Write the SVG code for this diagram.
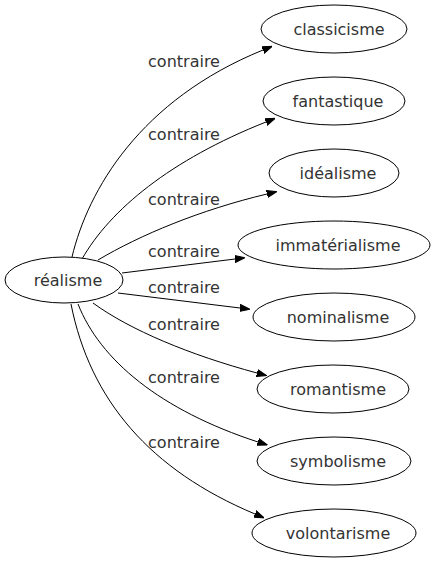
<svg xmlns="http://www.w3.org/2000/svg" width="435" height="563" viewBox="0 0 435 563">
<defs>
<marker id="arr" markerWidth="10" markerHeight="10" refX="0" refY="3.5" orient="auto" markerUnits="userSpaceOnUse" viewBox="0 0 10 7">
<polygon points="0,0 10,3.5 0,7" fill="#000" stroke="#000"/>
</marker>
</defs>
<style>
.n ellipse{fill:#fff;stroke:#000;stroke-width:1}
.n text{font-family:"DejaVu Sans",sans-serif;font-size:16px;fill:#333;text-anchor:middle}
.l{font-family:"DejaVu Sans",sans-serif;font-size:16px;fill:#333;text-anchor:middle}
.e path{fill:none;stroke:#000;stroke-width:1;marker-end:url(#arr)}
</style>
<rect width="435" height="563" fill="#fff"/>
<g id="edges" class="e">
<path d="M72,257 C88,190 140,100 263,50"/>
<path d="M82,259 C110,210 170,160 266,122"/>
<path d="M98,260 C140,235 200,210 267,194"/>
<path d="M122,273 L235,259"/>
<path d="M118,293 L240,308"/>
<path d="M93,303 C130,330 190,355 257,373"/>
<path d="M78,304 C100,360 160,410 258,442"/>
<path d="M71,304 C90,400 150,470 255,514"/>
<text class="l" x="184" y="67">contraire</text>
<text class="l" x="184" y="140">contraire</text>
<text class="l" x="184" y="205">contraire</text>
<text class="l" x="184" y="257">contraire</text>
<text class="l" x="184" y="293">contraire</text>
<text class="l" x="184" y="330">contraire</text>
<text class="l" x="184" y="383">contraire</text>
<text class="l" x="184" y="448">contraire</text>
</g>
<g id="realisme" class="n"><ellipse cx="64" cy="280" rx="59" ry="23"/><text x="68" y="286">réalisme</text></g>
<g id="classicisme" class="n"><ellipse cx="334" cy="29" rx="73" ry="24"/><text x="339" y="35">classicisme</text></g>
<g id="fantastique" class="n"><ellipse cx="334" cy="101" rx="71" ry="24"/><text x="338" y="107">fantastique</text></g>
<g id="idealisme" class="n"><ellipse cx="334" cy="173" rx="65" ry="24"/><text x="338" y="179">idéalisme</text></g>
<g id="immaterialisme" class="n"><ellipse cx="334" cy="245" rx="96" ry="24"/><text x="338" y="251">immatérialisme</text></g>
<g id="nominalisme" class="n"><ellipse cx="334" cy="317" rx="81" ry="24"/><text x="338" y="323">nominalisme</text></g>
<g id="romantisme" class="n"><ellipse cx="333" cy="389" rx="76" ry="24"/><text x="338" y="395">romantisme</text></g>
<g id="symbolisme" class="n"><ellipse cx="334" cy="461" rx="77" ry="24"/><text x="338" y="467">symbolisme</text></g>
<g id="volontarisme" class="n"><ellipse cx="334" cy="533" rx="82" ry="24"/><text x="338" y="539">volontarisme</text></g>
</svg>
